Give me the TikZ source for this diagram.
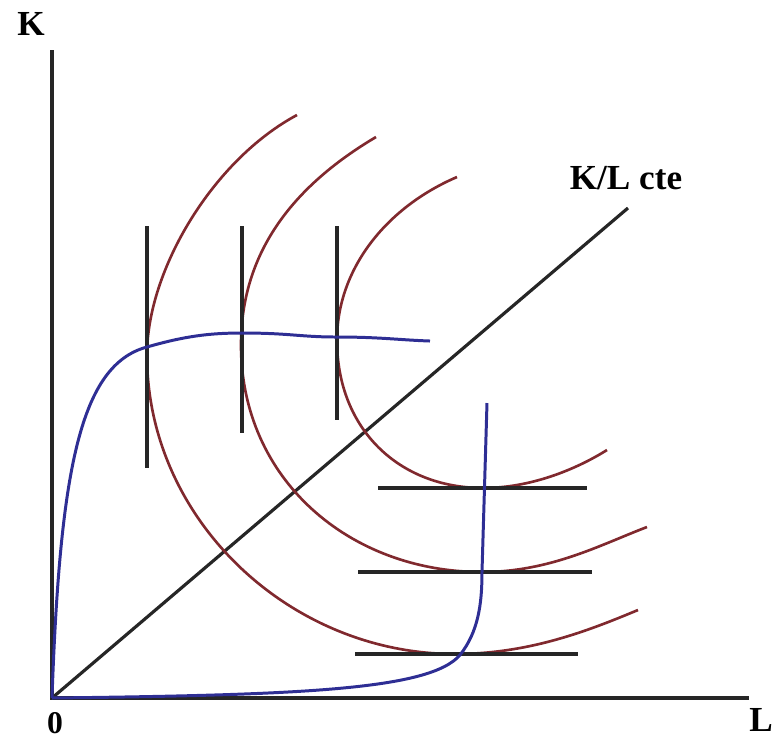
\documentclass[tikz,border=0pt]{standalone}
\usepackage{fontspec}
\setmainfont{Liberation Serif}
\usepackage{xcolor}
\definecolor{isobd}{rgb}{0.50,0.16,0.18}
\definecolor{expbd}{rgb}{0.18,0.18,0.58}
\usepackage{tikz}
\usetikzlibrary{positioning}

\begin{document}
\begin{tikzpicture}[
  x=0.01cm, y=-0.01cm,
  axis/.style={draw=black!85, line width=0.9pt},
  iso/.style={draw=isobd, line width=0.75pt},
  tangent/.style={draw=black!85, line width=0.9pt},
  expand/.style={draw=expbd, line width=0.85pt},
  lbl/.style={font=\fontsize{10}{12}\selectfont\bfseries, inner sep=0pt},
]
\useasboundingbox (0,0) rectangle (778,738);

% --- Axes ---
\coordinate (o) at (52,698);
\coordinate (ktop) at (52,50);
\coordinate (lend) at (749,698);
\draw[axis] (ktop) -- (o) -- (lend);
\node[lbl] (k) at (31,24) {K};
\node[lbl, font=\fontsize{9}{11}\selectfont\bfseries] (zero) at (55,723) {0};
\node[lbl] (l) at (761,720) {L};

% --- Constant K/L ray ---
\coordinate (rayend) at (628,208);
\draw[axis] (o) -- (rayend);
\node[lbl] (ray) at (626,178) {K/L cte};

% --- Isoquants ---
\draw[iso] (297,115) .. controls (213,160) and (147,270) .. (147,355)
  .. controls (147,520) and (290,654) .. (455,654)
  .. controls (530,654) and (590,630) .. (638,610);
\draw[iso] (376,137) .. controls (290,188) and (241,255) .. (241,345)
  .. controls (241,480) and (350,572) .. (482,572)
  .. controls (550,572) and (600,545) .. (647,527);
\draw[iso] (457,177) .. controls (385,208) and (337,270) .. (337,340)
  .. controls (337,430) and (400,488) .. (483,488)
  .. controls (530,488) and (575,470) .. (607,450);

% Tangent segments
\draw[tangent] (147,226) -- (147,468);
\draw[tangent] (242,226) -- (242,433);
\draw[tangent] (337,226) -- (337,420);
\draw[tangent] (378,488) -- (587,488);
\draw[tangent] (358,572) -- (592,572);
\draw[tangent] (355,654) -- (578,654);

% --- Expansion paths ---
\draw[expand] (o) .. controls (60,470) and (80,365) .. (147,347)
  .. controls (185,336) and (210,333) .. (242,333)
  .. controls (290,333) and (300,337) .. (337,337)
  .. controls (380,337) and (400,340) .. (430,341);
\draw[expand] (o) .. controls (300,695) and (430,690) .. (460,655)
  .. controls (478,632) and (482,605) .. (482,572)
  -- (487,403);
\end{tikzpicture}
\end{document}
